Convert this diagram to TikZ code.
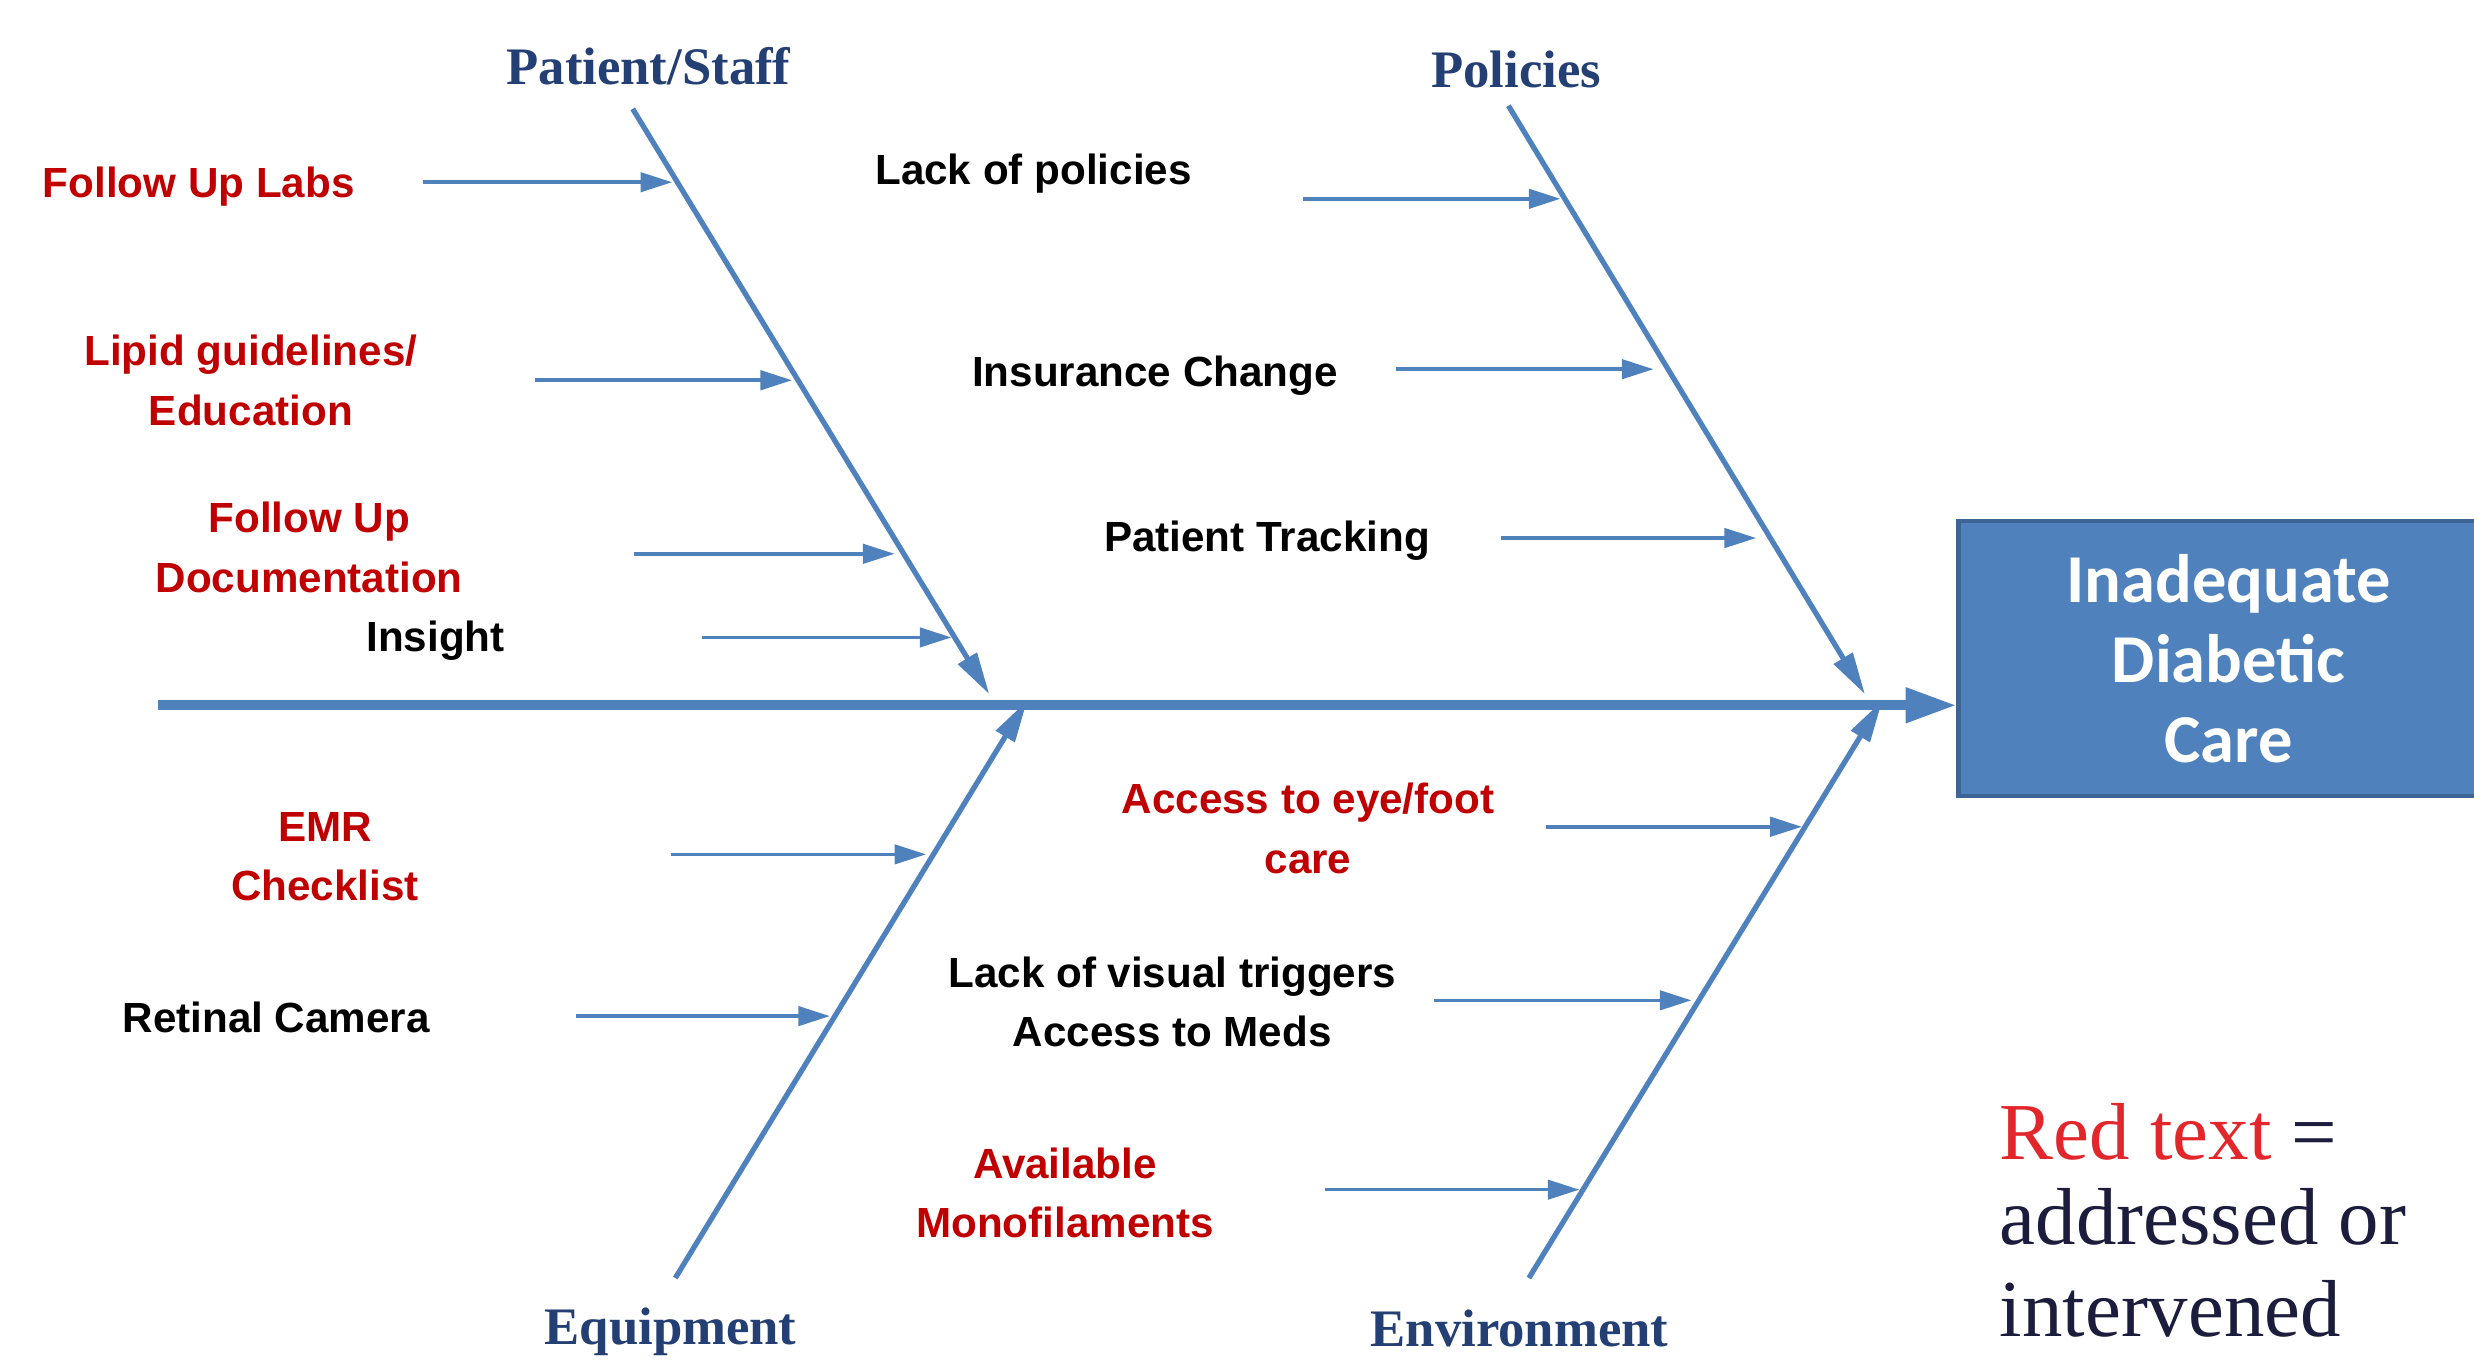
\documentclass[tikz,border=0pt]{standalone}
\usepackage{fontspec}
\setmainfont{Liberation Sans}
\newfontfamily\catfont{Liberation Serif}
\newfontfamily\boxfont{Carlito}
\usetikzlibrary{arrows.meta}
\definecolor{bone}{HTML}{4F81BD}
\definecolor{catblue}{HTML}{243F74}
\definecolor{itemred}{HTML}{C00000}
\definecolor{legred}{HTML}{E3262B}
\definecolor{legnavy}{HTML}{1C1C3C}
\definecolor{boxedge}{HTML}{3C6494}
\tikzset{
 spine/.style={draw=bone, line width=2.8pt, -{Triangle[length=14.5pt,width=9.5pt]}},
 bonestyle/.style={draw=bone, line width=1.5pt, -{Triangle[length=12pt,width=6pt]}},
 twig/.style={draw=bone, line width=1pt, -{Triangle[length=9pt,width=5.5pt]}},
 cat/.style={font=\catfont\bfseries\fontsize{15}{18}\selectfont, text=catblue, inner sep=0pt},
 item/.style={font=\bfseries\fontsize{12}{17}\selectfont, align=center, inner sep=0pt},
 reditem/.style={item, text=itemred},
 blackitem/.style={item, text=black},
 legend/.style={font=\catfont\fontsize{23}{25}\selectfont, text=legnavy, anchor=base west, inner sep=0pt},
}
\begin{document}
\begin{tikzpicture}[x=0.015778cm, y=-0.015778cm]
\useasboundingbox (0,0) rectangle (1568,864);

% effect box
\node[draw=boxedge, fill=bone, line width=1.2pt, minimum width=5.4cm, minimum height=2.745cm,
      anchor=north west, inner sep=0pt, text=white, align=center,
      font=\boxfont\bfseries\fontsize{19.5}{22.8}\selectfont] (effect) at (1240,329)
      {Inadequate\\Diabetic\\Care};

% spine
\coordinate (tail) at (100,447);
\draw[spine] (tail) -- (tail -| effect.west);

% bones
\coordinate (ps1) at (401,69);   \coordinate (ps2) at (627,440);
\coordinate (po1) at (956,67);   \coordinate (po2) at (1182,440);
\coordinate (eq1) at (428,810);  \coordinate (eq2) at (651,444);
\coordinate (en1) at (969,810);  \coordinate (en2) at (1193,444);
\draw[bonestyle] (ps1) -- (ps2);
\draw[bonestyle] (po1) -- (po2);
\draw[bonestyle] (eq1) -- (eq2);
\draw[bonestyle] (en1) -- (en2);

% category labels
\node[cat] (lps) at (411,42) {Patient/Staff};
\node[cat] (lpo) at (961,44) {Policies};
\node[cat] (leq) at (425,844) {Equipment};
\node[cat] (len) at (963,842) {Environment};

% twigs
\coordinate (a1s) at (268,115.5); \coordinate (a1e) at (426,115.5);
\coordinate (a2s) at (339,241);   \coordinate (a2e) at (502,241);
\coordinate (a3s) at (402,351);   \coordinate (a3e) at (567,351);
\coordinate (a4s) at (445,404);   \coordinate (a4e) at (603,404);
\coordinate (b1s) at (826,126);   \coordinate (b1e) at (989,126);
\coordinate (b2s) at (885,234);   \coordinate (b2e) at (1048,234);
\coordinate (b3s) at (951,341);   \coordinate (b3e) at (1113,341);
\coordinate (c1s) at (425,541.5); \coordinate (c1e) at (587,541.5);
\coordinate (c2s) at (365,644);   \coordinate (c2e) at (526,644);
\coordinate (d1s) at (980,524);   \coordinate (d1e) at (1142,524);
\coordinate (d2s) at (909,634);   \coordinate (d2e) at (1072,634);
\coordinate (d3s) at (840,754);   \coordinate (d3e) at (1001,754);
\foreach \t in {a1,a2,a3,a4,b1,b2,b3,c1,c2,d1,d2,d3}
  \draw[twig] (\t s) -- (\t e);

% items
\node[reditem] (t1) at (126,118) {Follow Up Labs};
\node[reditem] (t2) at (159,241) {Lipid guidelines/\\Education};
\node[reditem] (t3) at (196,347) {Follow Up\\Documentation};
\node[blackitem] (t4) at (276,406) {Insight};
\node[blackitem] (t5) at (655,110) {Lack of policies};
\node[blackitem] (t6) at (732,238) {Insurance Change};
\node[blackitem] (t7) at (803,343) {Patient Tracking};
\node[reditem] (t8) at (206,543) {EMR\\Checklist};
\node[blackitem] (t9) at (175,645) {Retinal Camera};
\node[reditem] (t10) at (829,525) {Access to eye/foot\\care};
\node[blackitem] (t11) at (743,635) {Lack of visual triggers\\Access to Meds};
\node[reditem] (t12) at (675,756) {Available\\Monofilaments};

% legend
\node[legend] (leg1) at (1267,735) {\textcolor{legred}{Red text} =};
\node[legend] (leg2) at (1267,789) {addressed or};
\node[legend] (leg3) at (1267,847) {intervened};
\end{tikzpicture}
\end{document}
